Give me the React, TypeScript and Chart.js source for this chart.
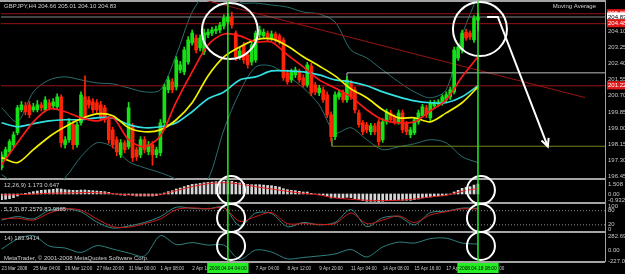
import React, { useEffect, useRef } from "react";
import { Chart, registerables } from "chart.js";

Chart.register(...registerables);

const FONT = "'Liberation Sans', Arial, sans-serif";

// ---------- x axis (bar index) ----------
const X_MIN = -0.15;
const X_MAX = 152;
const timeTickIdx = [0, 8, 16, 24, 32, 40, 48, 56, 64, 72, 80, 88, 96, 104, 112, 120];
const timeTickLabels = [
  "23 Mar 2008", "25 Mar 04:00", "26 Mar 12:00", "27 Mar 20:00", "31 Mar 00:00", "1 Apr 08:00",
  "2 Apr 16:00", "4 Apr 00:00", "7 Apr 04:00", "8 Apr 12:00", "9 Apr 20:00", "11 Apr 04:00",
  "14 Apr 08:00", "15 Apr 16:00", "17 Apr 00:00", "18 Apr 08:00",
];
const markerIdx = [57, 120];
const markerLabels = ["2008.04.04 04:00", "2008.04.18 08:00"];

// ---------- GBPJPY H4 candles ----------
const opens = [
  196.92, 197.45, 197.76, 198.13, 198.76, 199.96, 200.17, 200.22, 199.96, 199.96,
  200.22, 199.96, 200.33, 200.17, 200.12, 200.64, 198.13, 198.39, 199.18, 198.13,
  199.28, 200.64, 200.48, 200.38, 200.33, 200.22, 200.07, 199.44, 198.91, 198.39,
  197.60, 198.23, 198.02, 199.07, 197.87, 197.60, 198.39, 197.76, 198.13, 197.60,
  197.71, 199.28, 201.01, 201.43, 201.16, 202.05, 201.95, 202.47, 203.47, 203.73,
  203.21, 203.00, 203.89, 203.99, 204.10, 204.15, 204.36, 204.57, 204.83, 203.99,
  202.74, 203.36, 202.84, 202.47, 202.58, 203.89, 203.84, 203.99, 203.73, 203.94,
  203.84, 203.63, 201.90, 201.53, 201.79, 201.95, 201.64, 201.27, 202.26, 201.27,
  200.85, 201.01, 200.75, 199.70, 198.55, 200.64, 200.85, 200.48, 201.37, 201.01,
  199.80, 199.28, 199.18, 198.81, 199.12, 199.33, 198.39, 199.33, 199.80, 199.59,
  199.33, 199.80, 199.23, 198.65, 198.76, 199.33, 199.65, 200.07, 199.54, 200.17,
  200.27, 200.33, 200.48, 200.64, 200.90, 202.68, 203.10, 204.04, 203.99, 203.63,
  204.66,
];
const closes = [
  197.60, 197.87, 198.29, 198.65, 200.07, 200.22, 199.86, 199.70, 200.12, 200.22,
  200.07, 200.48, 200.07, 200.38, 200.64, 198.23, 198.39, 199.33, 198.13, 199.18,
  200.75, 199.59, 200.22, 199.96, 199.96, 199.54, 199.44, 198.39, 198.13, 197.76,
  198.23, 197.87, 200.07, 197.45, 197.50, 198.39, 197.87, 198.13, 197.60, 197.87,
  199.28, 201.16, 201.53, 201.01, 202.58, 202.32, 203.10, 203.63, 203.99, 203.10,
  203.73, 203.99, 204.04, 204.15, 204.20, 204.41, 204.78, 204.83, 204.41, 202.74,
  203.05, 202.58, 202.32, 203.36, 203.99, 204.15, 204.04, 203.73, 203.94, 203.63,
  203.52, 201.64, 201.43, 201.95, 202.05, 201.53, 201.27, 202.32, 200.85, 200.90,
  201.11, 200.48, 199.70, 198.55, 200.75, 200.85, 200.48, 201.53, 200.64, 199.96,
  199.18, 198.81, 198.91, 199.12, 198.81, 198.29, 199.33, 199.86, 199.44, 199.33,
  199.80, 198.91, 198.81, 198.91, 199.44, 199.80, 200.12, 199.70, 200.33, 200.33,
  200.38, 200.64, 200.75, 201.01, 203.10, 203.26, 203.99, 203.73, 203.78, 204.78,
  204.83,
];
const highs = [
  197.75, 198.00, 198.40, 198.80, 200.20, 200.40, 200.35, 200.40, 200.30, 200.45,
  200.35, 200.65, 200.50, 200.55, 200.80, 200.75, 198.55, 199.50, 199.35, 199.30,
  200.90, 201.75, 200.65, 200.55, 200.50, 200.40, 200.20, 199.60, 199.05, 198.55,
  198.40, 198.35, 200.35, 199.25, 198.00, 198.55, 198.55, 198.30, 198.30, 198.00,
  199.45, 201.30, 201.70, 201.60, 202.75, 202.50, 203.25, 203.80, 204.15, 203.90,
  203.90, 204.20, 204.20, 204.30, 204.35, 204.55, 204.95, 205.00, 205.09, 204.10,
  203.25, 203.50, 203.00, 203.50, 204.10, 204.35, 204.20, 204.10, 204.10, 204.05,
  203.95, 203.75, 202.05, 202.10, 202.20, 202.10, 201.80, 202.45, 202.40, 201.40,
  201.25, 201.15, 200.90, 199.85, 200.90, 201.00, 201.00, 201.70, 201.50, 201.15,
  199.95, 199.40, 199.30, 199.25, 199.25, 199.45, 199.50, 200.00, 199.95, 199.70,
  199.95, 199.95, 199.35, 199.05, 199.55, 199.95, 200.25, 200.20, 200.45, 200.45,
  200.50, 200.75, 200.90, 201.15, 203.25, 203.40, 204.15, 204.20, 204.10, 204.90,
  205.01,
];
const lows = [
  196.80, 197.35, 197.65, 198.00, 198.65, 199.85, 199.70, 199.55, 199.85, 199.85,
  199.90, 199.85, 199.95, 200.05, 200.00, 198.00, 197.95, 198.25, 197.90, 198.00,
  199.15, 199.45, 200.05, 199.80, 199.80, 199.40, 199.30, 198.20, 197.95, 197.55,
  197.45, 197.70, 197.90, 197.25, 197.30, 197.45, 197.70, 197.60, 197.05, 197.45,
  197.55, 199.15, 200.85, 200.85, 201.00, 201.90, 201.80, 202.35, 203.35, 202.95,
  203.05, 202.85, 203.75, 203.85, 203.95, 204.00, 204.20, 204.45, 204.25, 202.55,
  202.60, 202.40, 202.15, 202.30, 202.45, 203.75, 203.70, 203.60, 203.60, 203.50,
  203.40, 201.50, 201.30, 201.40, 201.65, 201.40, 201.15, 201.15, 200.70, 200.75,
  200.70, 200.35, 199.55, 198.30, 198.40, 200.50, 200.35, 200.35, 200.50, 199.80,
  199.05, 198.65, 198.75, 198.65, 198.65, 198.10, 198.25, 199.20, 199.30, 199.20,
  199.20, 198.75, 198.65, 198.50, 198.65, 199.20, 199.55, 199.55, 199.40, 200.05,
  200.15, 200.20, 200.35, 200.50, 200.80, 202.55, 202.95, 203.60, 203.65, 203.50,
  204.10,
];

// ---------- indicator lines, read every 4 bars ----------
const sampleIdx = [0, 4, 8, 12, 16, 20, 24, 28, 32, 36, 40, 44, 48, 52, 56, 60, 64, 68, 72, 76, 80, 84, 88, 92, 96, 100, 104, 108, 112, 116, 120];
const redMA = [197.08, 198.23, 199.33, 200.01, 199.86, 199.54, 199.38, 199.54, 198.39, 198.02, 198.60, 200.38, 201.95, 203.36, 203.94, 203.84, 203.52, 203.52, 202.84, 202.21, 201.53, 201.11, 200.64, 199.96, 199.44, 199.28, 199.33, 199.91, 200.48, 201.69, 202.74];
const yellowMA = [197.45, 197.19, 197.87, 198.55, 199.07, 199.49, 199.75, 199.65, 199.02, 198.81, 198.91, 199.44, 200.33, 201.74, 202.74, 203.26, 203.63, 203.68, 203.31, 202.74, 202.26, 201.74, 201.06, 200.59, 199.96, 199.54, 199.54, 199.33, 199.80, 200.33, 201.16];
const cyanMA = [199.28, 199.07, 199.23, 199.38, 199.44, 199.44, 199.54, 199.54, 199.18, 199.02, 199.07, 199.28, 199.86, 200.54, 200.90, 201.53, 201.69, 202.00, 202.00, 201.95, 201.79, 201.53, 201.43, 201.22, 200.90, 200.64, 200.43, 200.33, 200.33, 200.64, 201.22];
const bandUpper = [200.07, 199.33, 200.90, 201.53, 201.69, 201.53, 201.37, 201.32, 201.11, 200.90, 201.01, 202.84, 205.09, 206.24, 206.77, 205.62, 205.56, 205.46, 205.35, 205.09, 204.99, 204.57, 203.10, 202.68, 202.05, 201.43, 200.90, 200.59, 201.01, 203.89, 205.98];
const bandLower = [196.56, 196.03, 195.77, 195.77, 196.40, 197.50, 198.23, 198.02, 197.24, 196.92, 196.66, 196.30, 195.51, 196.30, 198.91, 200.90, 202.21, 202.26, 201.74, 201.11, 200.22, 198.76, 199.02, 198.39, 197.87, 198.02, 198.18, 198.39, 198.23, 197.50, 197.19];

const macdHist = [
  -0.85, -0.8, -0.7, -0.55, -0.3, -0.05, 0.1, 0.2, 0.35, 0.45,
  0.55, 0.6, 0.65, 0.7, 0.8, 0.75, 0.65, 0.6, 0.55, 0.55,
  0.6, 0.6, 0.55, 0.5, 0.45, 0.4, 0.35, 0.25, 0.1, -0.05,
  -0.15, -0.2, -0.1, -0.2, -0.3, -0.3, -0.3, -0.3, -0.3, -0.25,
  -0.1, 0.15, 0.35, 0.5, 0.75, 0.9, 1.1, 1.3, 1.45, 1.5,
  1.6, 1.7, 1.75, 1.8, 1.85, 1.9, 1.95, 1.95, 1.9, 1.75,
  1.68,
  1.6, 1.45, 1.4, 1.4, 1.4, 1.35, 1.3, 1.25, 1.15, 1.05,
  0.8, 0.65, 0.55, 0.5, 0.4, 0.3, 0.3, 0.1, 0.0, -0.1,
  -0.2, -0.35, -0.6, -0.55, -0.55, -0.6, -0.5, -0.55, -0.7, -0.85,
  -1.0, -1.1, -1.1, -1.1, -1.15, -1.1, -1.0, -0.95, -0.95, -0.9,
  -0.95, -0.95, -0.95, -0.85, -0.75, -0.6, -0.55, -0.45, -0.4, -0.3,
  -0.25, -0.15, -0.05, 0.3, 0.55, 0.85, 1.0, 1.1, 1.35, 1.5,
];
const macdSignal = [-0.15, -0.1, 0.0, 0.1, 0.15, 0.2, 0.2, 0.05, -0.15, -0.15, -0.1, 0.5, 1.1, 1.55, 1.7, 1.5, 1.1, 0.75, 0.4, 0.1, -0.15, -0.6, -0.8, -0.95, -1.0, -0.95, -0.75, -0.45, -0.2, 0.4, 0.85];
const stochMain = [40, 55, 45, 82, 88, 75, 32, 6, 15, 30, 55, 95, 90, 88, 95, 15, 70, 68, 12, 30, 20, 30, 85, 12, 50, 55, 20, 72, 78, 91, 90];
const stochSignal = [45, 48, 40, 70, 88, 82, 45, 12, 10, 25, 45, 85, 92, 88, 92, 35, 55, 72, 25, 25, 22, 25, 70, 25, 40, 58, 30, 62, 76, 88, 87];
const stochLevels = [80, 20];
const cciValues = [20, 220, 290, 80, 40, -50, 90, 20, -60, -120, 290, 110, 150, 100, 100, -190, 0, -40, -180, -150, -120, -80, 10, -140, 60, 160, 140, 230, 240, 140, 120];

// ---------- chart objects ----------
const redLevels = [205.0, 204.48, 201.22];
const bidLevel = 204.83;
const greyBoxX = [87, 87, X_MAX];
const greyBoxY = [201.37, 201.9, 201.9];
const oliveX = [83.2, 83.2, X_MAX];
const oliveY = [198.49, 198.05, 198.05];
const trendX = [50, 147];
const trendY = [205.78, 200.6];
const arrowX = [122.3, 125.0, 137.6];
const arrowY = [204.83, 204.83, 198.03];
const arrowHeadX = [136.0, 137.6, 137.8];
const arrowHeadY = [198.35, 198.03, 198.49];
const circleX = [57.5, 120.5];
const circlePrice = [204.1, 204.2];
const circleR = [28, 27];
const subCircleX = [57.8, 120.75];
const macdCircleY = 0.6;
const stochCircleY = 49;
const cciCircleY = 81;

// ---------- axes ----------
const PRICE_MIN = 196.33, PRICE_MAX = 205.67;
const MACD_MIN = -1.36, MACD_MAX = 2.26;
const STOCH_MIN = -10.6, STOCH_MAX = 112.8;
const CCI_MIN = -242, CCI_MAX = 364;

const priceTicks = [205.0, 204.83, 204.48, 204.1, 203.25, 202.4, 201.55, 201.22, 200.7, 199.85, 199.0, 198.15, 197.3, 196.45];
const priceTickLabels = ["205.00", "204.83", "204.48", "204.10", "203.25", "202.40", "201.55", "201.22", "200.70", "199.85", "199.00", "198.15", "197.30", "196.45"];
const priceTickBg = ["#e01818", "#ffffff", "#e01818", null, null, null, null, "#e01818", null, null, null, null, null, null];
const priceTickFg = ["#ffffff", "#000000", "#ffffff", "#c8c8c8", "#c8c8c8", "#c8c8c8", "#c8c8c8", "#ffffff", "#c8c8c8", "#c8c8c8", "#c8c8c8", "#c8c8c8", "#c8c8c8", "#c8c8c8"];
const macdTicks = [1.508, 0, -0.932];
const macdTickLabels = ["1.508", "0.00", "-0.932"];
const stochTicks = [100, 80, 20, 0];
const stochTickLabels = ["100", "80", "20", "0"];
const cciTicks = [282.695, 0, -227.039];
const cciTickLabels = ["282.695", "0.00", "-227.039"];

const BULL = "#16e016";
const BEAR = "#ff2408";
const AXIS_TXT = "#c8c8c8";

function pts(xs: number[], ys: number[]) {
  return xs.map((x, k) => ({ x, y: ys[k] }));
}

function line(xs: number[], ys: number[], color: string, width: number, yAxisID: string, order: number, extra: any = {}) {
  return {
    type: "line",
    data: pts(xs, ys),
    borderColor: color,
    borderWidth: width,
    pointRadius: 0,
    tension: 0.3,
    fill: false,
    yAxisID,
    xAxisID: "x",
    order,
    ...extra,
  };
}

function yAxis(weight: number, min: number, max: number, ticks: number[], labels: string[], extraTicks: any = {}) {
  return {
    type: "linear",
    position: "right",
    stack: "panels",
    stackWeight: weight,
    min,
    max,
    beginAtZero: false,
    grid: { display: false, drawTicks: false },
    border: { display: false },
    afterBuildTicks: (s: any) => {
      s.ticks = ticks.map((v) => ({ value: v }));
    },
    afterFit: (s: any) => {
      s.width = 20;
      s.paddingTop = 0;
      s.paddingBottom = 0;
    },
    ticks: {
      autoSkip: false,
      padding: 3,
      color: AXIS_TXT,
      font: { family: FONT, size: 6 },
      callback: (_v: any, i: number) => labels[i],
      ...extraTicks,
    },
  };
}

const chromePlugin = {
  id: "mt4chrome",
  beforeDraw(chart: any) {
    const { ctx, width, height } = chart;
    ctx.save();
    ctx.fillStyle = "#000";
    ctx.fillRect(0, 0, width, height);
    ctx.restore();
  },
  beforeDatasetsDraw(chart: any) {
    const { ctx, chartArea, scales } = chart;
    ctx.save();
    ctx.strokeStyle = "#a4a4a4";
    ctx.lineWidth = 2;
    const ys = [scales.y.top, scales.y.bottom, scales.yMacd.bottom, scales.yStoch.bottom, scales.yCci.bottom];
    ys.forEach((y: number) => {
      ctx.beginPath();
      ctx.moveTo(0, y);
      ctx.lineTo(chartArea.right, y);
      ctx.stroke();
    });
    ctx.lineWidth = 1;
    ctx.beginPath();
    ctx.moveTo(chartArea.right + 0.5, 0);
    ctx.lineTo(chartArea.right + 0.5, chartArea.bottom);
    ctx.stroke();
    ctx.restore();
  },
  afterDatasetsDraw(chart: any) {
    const { ctx, chartArea, scales } = chart;
    ctx.save();
    ctx.strokeStyle = "#22ee22";
    ctx.lineWidth = 1.5;
    markerIdx.forEach((i) => {
      const x = scales.x.getPixelForValue(i);
      ctx.beginPath();
      ctx.moveTo(x, chartArea.top);
      ctx.lineTo(x, chartArea.bottom);
      ctx.stroke();
    });
    ctx.restore();
  },
  afterDraw(chart: any) {
    const { ctx, scales } = chart;
    ctx.save();
    ctx.font = `6px ${FONT}`;
    ctx.fillStyle = "#d0d0d0";
    ctx.textBaseline = "middle";
    ctx.textAlign = "left";
    ctx.fillText("GBPJPY,H4 204.66 205.01 204.10 204.83", 4, 6);
    ctx.fillText("12,26,9) 1.173 0.647", 4, scales.yMacd.top + 6);
    ctx.fillText("5,3,3) 87.2579 83.9885", 4, scales.yStoch.top + 6);
    ctx.fillText("14) 183.9414", 4, scales.yCci.top + 6);
    ctx.fillText("MetaTrader, \u00a9 2001-2008 MetaQuotes Software Corp.", 4, scales.yCci.bottom - 4);
    ctx.textAlign = "right";
    ctx.fillText("Moving Average", 596, 6);
    ctx.font = `4.8px ${FONT}`;
    ctx.textAlign = "center";
    markerIdx.forEach((i, k) => {
      const x = scales.x.getPixelForValue(i);
      const w = ctx.measureText(markerLabels[k]).width + 4;
      ctx.fillStyle = "#22ee22";
      ctx.fillRect(x - w / 2, scales.x.top + 1, w, 10);
      ctx.fillStyle = "#000";
      ctx.fillText(markerLabels[k], x, scales.x.top + 6.5);
    });
    ctx.restore();
  },
};

export default function App() {
  const ref = useRef<HTMLCanvasElement>(null);

  useEffect(() => {
    const idx = opens.map((_, i) => i);
    const candleColors = idx.map((i) => (closes[i] >= opens[i] ? BULL : BEAR));
    const fullX = [X_MIN, X_MAX];

    const datasets: any[] = [
      line(sampleIdx, bandUpper, "#2b6e6e", 1, "y", 12),
      line(sampleIdx, bandLower, "#2b6e6e", 1, "y", 12),
      ...redLevels.map((lv) => line(fullX, [lv, lv], "#9a1414", 1, "y", 11, { tension: 0 })),
      line(fullX, [bidLevel, bidLevel], "#8a8a8a", 1, "y", 11, { tension: 0 }),
      line(greyBoxX, greyBoxY, "#bdbdbd", 1, "y", 11, { tension: 0 }),
      line(oliveX, oliveY, "#6f8a1e", 1, "y", 11, { tension: 0 }),
      line(trendX, trendY, "#9a1414", 1, "y", 11, { tension: 0 }),
      {
        type: "bar",
        data: idx.map((i) => ({ x: i, y: [lows[i], highs[i]] })),
        backgroundColor: candleColors,
        barThickness: 1,
        grouped: false,
        yAxisID: "y",
        xAxisID: "x",
        order: 9,
      },
      {
        type: "bar",
        data: idx.map((i) => ({ x: i, y: [opens[i], closes[i]] })),
        backgroundColor: candleColors,
        barThickness: 3,
        minBarLength: 1,
        grouped: false,
        yAxisID: "y",
        xAxisID: "x",
        order: 8,
      },
      line(sampleIdx, cyanMA, "#33e0e0", 1.7, "y", 6),
      line(sampleIdx, yellowMA, "#f2f200", 1.7, "y", 5),
      line(sampleIdx, redMA, "#ff1a1a", 1.7, "y", 4),
      {
        type: "bar",
        data: idx.map((i) => ({ x: i, y: macdHist[i] })),
        backgroundColor: "#d6d6d6",
        barThickness: 2,
        grouped: false,
        yAxisID: "yMacd",
        xAxisID: "x",
        order: 9,
      },
      line(sampleIdx, macdSignal, "#e01818", 1, "yMacd", 4),
      ...stochLevels.map((lv) => line(fullX, [lv, lv], "#8a8a8a", 1, "yStoch", 11, { tension: 0, borderDash: [1, 2] })),
      line(sampleIdx, stochMain, "#2f8c8c", 1, "yStoch", 5),
      line(sampleIdx, stochSignal, "#d01c1c", 1, "yStoch", 4),
      line(sampleIdx, cciValues, "#2f8080", 1, "yCci", 4),
      line(arrowX, arrowY, "#ffffff", 2, "y", 2, { tension: 0 }),
      line(arrowHeadX, arrowHeadY, "#ffffff", 2, "y", 2, { tension: 0 }),
      {
        type: "line",
        data: pts(circleX, circlePrice),
        showLine: false,
        pointRadius: circleR,
        pointStyle: "circle",
        pointBorderColor: "#ffffff",
        pointBorderWidth: 2,
        pointBackgroundColor: "rgba(0,0,0,0)",
        yAxisID: "y",
        xAxisID: "x",
        clip: false,
        order: 1,
      },
      ...[
        ["yMacd", macdCircleY],
        ["yStoch", stochCircleY],
        ["yCci", cciCircleY],
      ].map(([axis, v]) => ({
        type: "line",
        data: subCircleX.map((x) => ({ x, y: v })),
        showLine: false,
        pointRadius: 14,
        pointStyle: "circle",
        pointBorderColor: "#ffffff",
        pointBorderWidth: 2,
        pointBackgroundColor: "rgba(0,0,0,0)",
        yAxisID: axis,
        xAxisID: "x",
        clip: false,
        order: 1,
      })),
    ];

    const chart = new Chart(ref.current as HTMLCanvasElement, {
      type: "line",
      data: { datasets },
      options: {
        responsive: false,
        animation: false,
        devicePixelRatio: 1,
        events: [],
        layout: { autoPadding: false, padding: { top: 1, left: 1, right: 0, bottom: 0 } },
        plugins: { legend: { display: false }, tooltip: { enabled: false }, title: { display: false } },
        scales: {
          x: {
            type: "linear",
            position: "bottom",
            min: X_MIN,
            max: X_MAX,
            offset: false,
            grid: { display: false, drawTicks: false, offset: false },
            border: { display: false },
            afterBuildTicks: (s: any) => {
              s.ticks = timeTickIdx.map((v) => ({ value: v }));
            },
            afterFit: (s: any) => {
              s.height = 12;
              s.paddingLeft = 0;
              s.paddingRight = 0;
            },
            ticks: {
              autoSkip: false,
              maxRotation: 0,
              minRotation: 0,
              align: "start",
              padding: 4,
              color: AXIS_TXT,
              font: { family: FONT, size: 4.6 },
              callback: (_v: any, i: number) => timeTickLabels[i],
            },
          },
          y: yAxis(178, PRICE_MIN, PRICE_MAX, priceTicks, priceTickLabels, {
            color: (c: any) => priceTickFg[c.index] || AXIS_TXT,
            showLabelBackdrop: (c: any) => !!priceTickBg[c.index],
            backdropColor: (c: any) => priceTickBg[c.index] || "rgba(0,0,0,0)",
            backdropPadding: { left: 1, right: 2, top: 1, bottom: 0 },
          }),
          yMacd: yAxis(24, MACD_MIN, MACD_MAX, macdTicks, macdTickLabels),
          yStoch: yAxis(29, STOCH_MIN, STOCH_MAX, stochTicks, stochTickLabels),
          yCci: yAxis(30, CCI_MIN, CCI_MAX, cciTicks, cciTickLabels),
        },
      } as any,
      plugins: [chromePlugin as any],
    } as any);

    return () => chart.destroy();
  }, []);

  return (
    <div style={{ position: "fixed", left: 0, top: 0, width: 625, height: 274, background: "#000" }}>
      <canvas ref={ref} width={625} height={274} style={{ display: "block", width: 625, height: 274 }} />
    </div>
  );
}
